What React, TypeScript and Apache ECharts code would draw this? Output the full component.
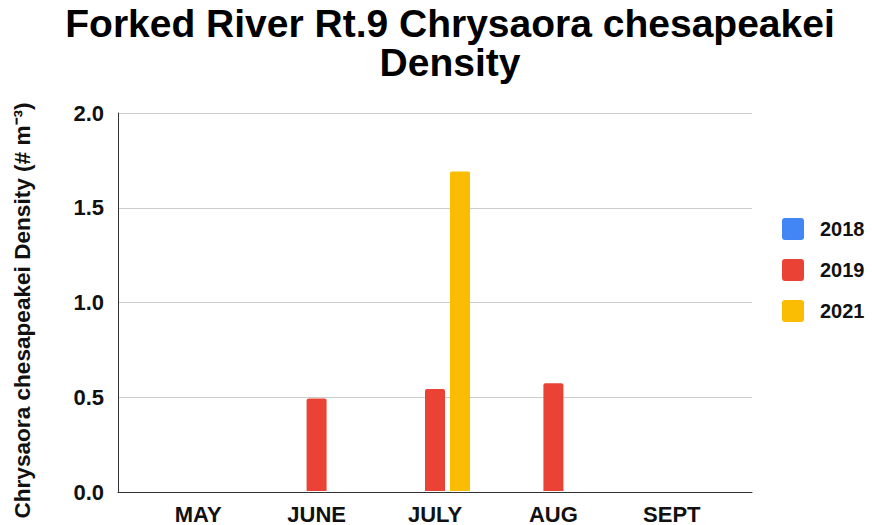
import React, { useEffect, useRef } from "react";
import * as echarts from "echarts";

const categories = ["MAY", "JUNE", "JULY", "AUG", "SEPT"];
const seriesNames = ["2018", "2019", "2021"];
const values2018 = [0, 0, 0, 0, 0];
const values2019 = [0, 0.49, 0.54, 0.57, 0];
const values2021 = [0, 0, 1.69, 0, 0];
const yTicks = [0, 0.5, 1.0, 1.5, 2.0];
const colors = ["#4285F4", "#EA4335", "#FBBC04"];

const FONT = '"Liberation Sans", Arial, sans-serif';
const ICON = "path://M3,0 H19 Q22,0 22,3 V19 Q22,22 19,22 H3 Q0,22 0,19 V3 Q0,0 3,0 Z";

export default function App() {
  const ref = useRef<HTMLDivElement>(null);
  useEffect(() => {
    if (!ref.current) return;
    document.body.style.margin = "0";
    const chart = echarts.init(ref.current, null, { renderer: "svg" });
    const allValues = [values2018, values2019, values2021];
    chart.setOption({
      animation: false,
      backgroundColor: "#ffffff",
      textStyle: { fontFamily: FONT },
      graphic: [
        {
          type: "text",
          x: 450,
          y: 4,
          style: {
            text: "Forked River Rt.9 Chrysaora chesapeakei\nDensity",
            align: "center",
            verticalAlign: "top",
            font: `bold 39px ${FONT}`,
            lineHeight: 39,
            fill: "#000000",
          },
        },
      ],
      legend: {
        orient: "vertical",
        left: 782,
        top: 218,
        padding: 0,
        itemWidth: 22,
        itemHeight: 22,
        itemGap: 19,
        icon: ICON,
        data: seriesNames,
        textStyle: {
          fontFamily: FONT,
          fontWeight: "bold",
          fontSize: 20,
          color: "#111",
          padding: [0, 0, 0, 11],
        },
      },
      grid: [
        { left: 118, right: 120, top: 113, bottom: 33 },
        { left: 139, right: 141, top: 113, bottom: 33 },
      ],
      xAxis: [
        {
          type: "category",
          gridIndex: 0,
          data: categories,
          axisLabel: { show: false },
          axisTick: { show: false },
          axisLine: { show: true, lineStyle: { color: "#333", width: 1 } },
        },
        {
          type: "category",
          gridIndex: 1,
          data: categories,
          axisTick: { show: false },
          axisLine: { show: false },
          axisLabel: {
            margin: 12,
            fontFamily: FONT,
            fontWeight: "bold",
            fontSize: 22,
            color: "#111",
          },
        },
      ],
      yAxis: [
        {
          type: "value",
          gridIndex: 0,
          min: yTicks[0],
          max: yTicks[yTicks.length - 1],
          interval: 0.5,
          name: "Chrysaora chesapeakei Density (# m⁻³)",
          nameLocation: "middle",
          nameGap: 84,
          nameTextStyle: {
            fontFamily: FONT,
            fontWeight: "bold",
            fontSize: 22.6,
            color: "#111",
            padding: [0, 16, 0, 0],
          },
          axisLine: { show: true, lineStyle: { color: "#333", width: 1 } },
          axisTick: { show: false },
          splitLine: { show: true, lineStyle: { color: "#cccccc", width: 1 } },
          axisLabel: {
            margin: 14,
            fontFamily: FONT,
            fontWeight: "bold",
            fontSize: 22,
            color: "#111",
            formatter: (v: number) => v.toFixed(1),
          },
        },
        {
          type: "value",
          gridIndex: 1,
          min: yTicks[0],
          max: yTicks[yTicks.length - 1],
          interval: 0.5,
          show: false,
          splitLine: { show: false },
        },
      ],
      series: seriesNames.map((name, i) => ({
        name,
        type: "bar",
        xAxisIndex: 1,
        yAxisIndex: 1,
        data: allValues[i],
        barWidth: 20,
        barGap: "25%",
        itemStyle: { color: colors[i], borderRadius: [2, 2, 0, 0] },
      })),
    });
    return () => chart.dispose();
  }, []);
  return <div ref={ref} style={{ width: 872, height: 525 }} />;
}
